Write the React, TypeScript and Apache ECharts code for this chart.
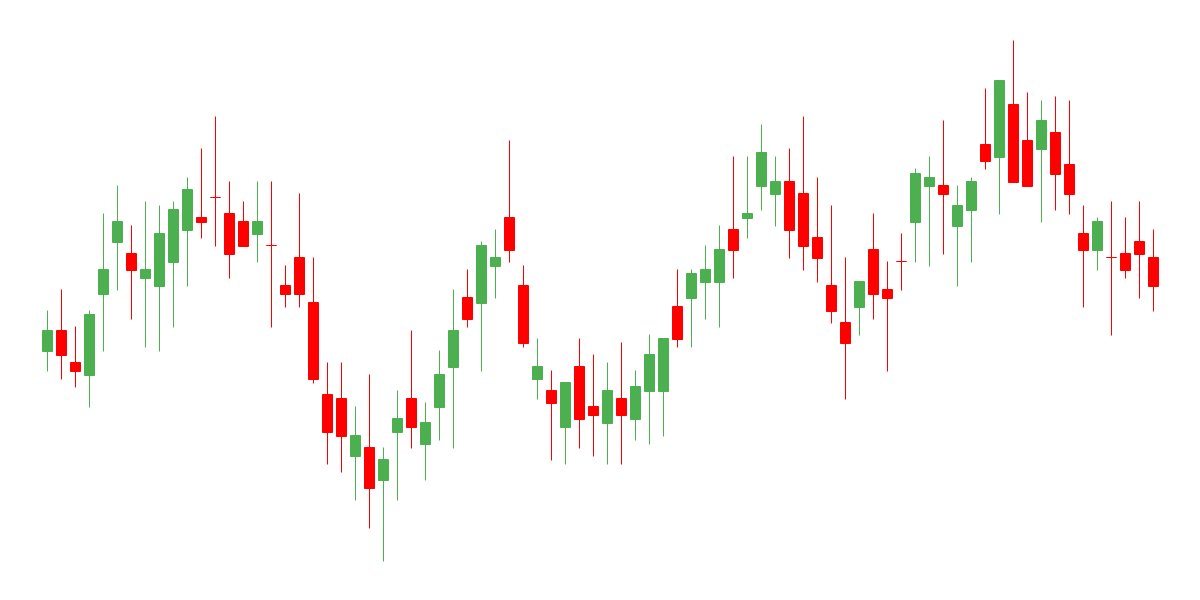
import React, { useEffect, useRef } from "react";
import * as echarts from "echarts";

// Candle index labels (no axis labels are shown in the reference)
const categories: string[] = Array.from({ length: 80 }, (_, i) => `D${i + 1}`);

const opens: number[] = [
  249, 270, 238, 225, 306, 358, 347, 322, 314, 338,
  370, 383, 403, 387, 379, 366, 355, 315, 343, 298,
  206, 202, 144, 153, 120, 168, 202, 156, 193, 233,
  303, 297, 334, 383, 315, 221, 210, 173, 234, 194,
  177, 202, 181, 209, 209, 294, 302, 318, 318, 371,
  382, 414, 406, 419, 407, 363, 315, 278, 293, 351,
  311, 339, 378, 414, 415, 374, 390, 456, 443, 496,
  460, 451, 468, 436, 367, 350, 343, 347, 359, 343,
];
const closes: number[] = [
  270, 245, 229, 286, 331, 379, 330, 331, 367, 391,
  411, 378, 403, 346, 354, 379, 355, 306, 306, 221,
  168, 164, 165, 112, 141, 182, 173, 178, 226, 270,
  281, 355, 343, 350, 257, 234, 197, 218, 181, 185,
  210, 185, 214, 246, 262, 261, 327, 331, 351, 350,
  387, 448, 419, 370, 354, 342, 289, 257, 319, 306,
  302, 339, 427, 423, 406, 395, 419, 439, 520, 418,
  414, 480, 426, 406, 350, 379, 343, 330, 346, 314,
];
const lows: number[] = [
  229, 221, 213, 193, 249, 310, 281, 253, 249, 273,
  314, 362, 354, 322, 354, 338, 273, 293, 293, 217,
  136, 128, 100, 72, 39, 100, 152, 120, 160, 152,
  273, 229, 302, 338, 253, 201, 140, 136, 152, 144,
  136, 136, 160, 156, 164, 253, 253, 281, 273, 322,
  362, 390, 374, 342, 330, 318, 277, 201, 265, 281,
  229, 310, 338, 334, 346, 314, 338, 431, 386, 418,
  414, 378, 390, 386, 293, 330, 265, 322, 302, 289,
];
const highs: number[] = [
  290, 311, 274, 290, 387, 415, 375, 399, 395, 399,
  423, 452, 484, 419, 399, 419, 419, 335, 407, 343,
  238, 238, 194, 226, 153, 210, 270, 198, 250, 311,
  331, 359, 371, 460, 335, 262, 230, 218, 262, 246,
  238, 258, 230, 266, 262, 331, 331, 355, 375, 444,
  444, 476, 444, 452, 484, 423, 395, 343, 319, 387,
  339, 367, 432, 444, 480, 415, 423, 512, 520, 560,
  508, 500, 504, 500, 395, 383, 399, 383, 399, 371,
];

const UP = "#4caf50";
const DOWN = "#ff0000";

export default function App() {
  const ref = useRef<HTMLDivElement>(null);

  useEffect(() => {
    if (!ref.current) return;
    const chart = echarts.init(ref.current, undefined, { renderer: "svg" });

    const data = categories.map((_, i) => {
      const value = [opens[i], closes[i], lows[i], highs[i]];
      if (opens[i] === closes[i]) {
        return {
          value,
          itemStyle: { color: DOWN, color0: DOWN, borderColor: DOWN, borderColor0: DOWN },
        };
      }
      return { value };
    });

    const yMin = Math.min(...lows);
    const yMax = Math.max(...highs);

    chart.setOption({
      animation: false,
      backgroundColor: "#ffffff",
      grid: { left: 40.5, right: 39.5, top: 40.5, bottom: 38.5 },
      xAxis: {
        type: "category",
        data: categories,
        boundaryGap: true,
        show: false,
      },
      yAxis: {
        type: "value",
        min: yMin,
        max: yMax,
        show: false,
        splitLine: { show: false },
      },
      series: [
        {
          type: "candlestick",
          data,
          barWidth: 10,
          itemStyle: {
            color: UP,
            color0: DOWN,
            borderColor: UP,
            borderColor0: DOWN,
            borderWidth: 1,
          },
        },
      ],
    });

    return () => {
      chart.dispose();
    };
  }, []);

  return (
    <div
      ref={ref}
      style={{ position: "fixed", left: 0, top: 0, width: 1200, height: 600 }}
    />
  );
}
